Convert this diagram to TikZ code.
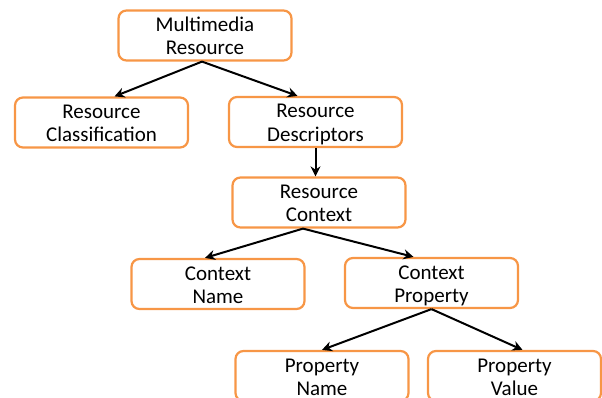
\documentclass[tikz,border=0pt]{standalone}
\usepackage{fontspec}
\setmainfont{Carlito}
\usetikzlibrary{arrows.meta}
\definecolor{boxorange}{RGB}{247,150,70}
\newcommand{\twolines}[2]{\begin{tabular}[t]{@{}c@{}}#1\\#2\end{tabular}}
\begin{document}
\begin{tikzpicture}[x=1pt,y=1pt,
  box/.style={draw=boxorange, line width=2.2pt, rounded corners=8pt, fill=white,
    minimum width=173pt, inner sep=0pt, text height=21pt, text depth=29pt,
    font=\fontsize{21}{23.5}\selectfont},
  arr/.style={draw=black, line width=2pt, -{Stealth[length=10pt,width=10pt]}}]
\useasboundingbox (0,0) rectangle (602,-398);
\clip (0,0) rectangle (602,-398);
\node[box] (n1) at (205,-35.5) {\twolines{Multimedia}{Resource}};
\node[box] (n2) at (101.5,-122.5) {\twolines{Resource}{Classification}};
\node[box] (n3) at (315.5,-122) {\twolines{Resource}{Descriptors}};
\node[box] (n4) at (319,-202.5) {\twolines{Resource}{Context}};
\node[box] (n5) at (218,-284) {\twolines{Context}{Name}};
\node[box] (n6) at (431.5,-283) {\twolines{Context}{Property}};
\node[box] (n7) at (322,-376) {\twolines{Property}{Name}};
\node[box] (n8) at (514.5,-376) {\twolines{Property}{Value}};
\draw[arr] ([xshift=-3pt]n1.south) -- ([xshift=13pt]n2.north);
\draw[arr] ([xshift=-3pt]n1.south) -- ([xshift=-18pt]n3.north);
\draw[arr] (n3.south) -- (n3.south |- n4.north);
\draw[arr] ([xshift=-16pt]n4.south) -- ([xshift=-13pt]n5.north);
\draw[arr] ([xshift=-16pt]n4.south) -- ([xshift=-18pt]n6.north);
\draw[arr] (n6.south) -- (n7.north);
\draw[arr] (n6.south) -- ([xshift=8pt]n8.north);
\end{tikzpicture}
\end{document}
